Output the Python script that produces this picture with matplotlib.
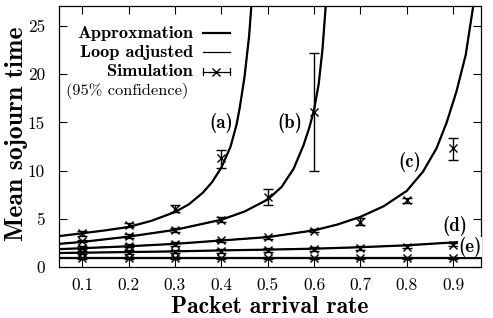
import matplotlib
matplotlib.use("Agg")
import matplotlib.pyplot as plt
import numpy as np

# ---- data ----
lam_a = [0.05, 0.1, 0.15, 0.2, 0.25, 0.3, 0.33, 0.36, 0.38, 0.4, 0.42, 0.433, 0.44, 0.45, 0.46, 0.47]
T_a = [3.2, 3.5, 3.8, 4.15, 4.8, 5.7, 6.5, 7.7, 8.8, 10.3, 12.5, 14.8, 16.6, 19.7, 24.0, 30.5]

lam_b = [0.05, 0.1, 0.2, 0.3, 0.4, 0.45, 0.5, 0.53, 0.556, 0.577, 0.59, 0.6, 0.61, 0.618, 0.625, 0.63]
T_b = [2.4, 2.6, 3.15, 3.85, 4.9, 5.75, 7.0, 8.3, 10.2, 12.6, 14.5, 16.3, 19.0, 22.5, 27.0, 30.5]

lam_c = [0.05, 0.1, 0.2, 0.3, 0.4, 0.5, 0.6, 0.65, 0.7, 0.75, 0.8, 0.835, 0.864, 0.886, 0.907, 0.927, 0.943, 0.95]
T_c = [1.85, 1.95, 2.15, 2.4, 2.75, 3.1, 3.8, 4.4, 5.2, 6.3, 7.9, 9.9, 12.3, 15.0, 18.2, 22.0, 27.0, 30.0]

lam_d = [0.05, 0.2, 0.3, 0.4, 0.5, 0.6, 0.7, 0.8, 0.9, 0.96]
T_d = [1.45, 1.55, 1.62, 1.72, 1.8, 1.9, 2.05, 2.25, 2.55, 2.8]

lam_e = [0.05, 0.5, 0.96]
T_e = [0.92, 0.92, 0.92]

sim_a_x = [0.1, 0.2, 0.3, 0.4]
sim_a_y = [3.5, 4.35, 6.05, 11.3]
sim_a_lo = [3.25, 4.1, 5.7, 10.3]
sim_a_hi = [3.75, 4.6, 6.4, 12.1]

sim_b_x = [0.1, 0.2, 0.3, 0.4, 0.5, 0.6]
sim_b_y = [2.7, 3.25, 3.8, 4.9, 7.3, 16.1]
sim_b_lo = [2.55, 3.05, 3.6, 4.65, 6.4, 10.0]
sim_b_hi = [2.85, 3.45, 4.0, 5.15, 8.05, 22.2]

sim_c_x = [0.1, 0.2, 0.3, 0.4, 0.5, 0.6, 0.7, 0.8, 0.9]
sim_c_y = [2.0, 2.2, 2.4, 2.75, 3.1, 3.75, 4.7, 6.9, 12.3]
sim_c_lo = [1.85, 2.05, 2.2, 2.6, 2.95, 3.6, 4.35, 6.6, 11.1]
sim_c_hi = [2.15, 2.35, 2.6, 2.9, 3.25, 3.9, 5.05, 7.2, 13.35]

sim_d_x = [0.1, 0.2, 0.3, 0.4, 0.5, 0.6, 0.7, 0.8, 0.9]
sim_d_y = [1.5, 1.55, 1.6, 1.7, 1.8, 1.85, 1.95, 2.1, 2.3]
sim_d_lo = [1.3, 1.35, 1.4, 1.5, 1.6, 1.65, 1.75, 1.95, 2.15]
sim_d_hi = [1.7, 1.75, 1.8, 1.9, 2.0, 2.05, 2.15, 2.25, 2.45]

sim_e_x = [0.1, 0.2, 0.3, 0.4, 0.5, 0.6, 0.7, 0.8, 0.9]
sim_e_y = [0.92, 0.92, 0.92, 0.92, 0.92, 0.92, 0.92, 0.92, 0.92]
sim_e_lo = [0.78, 0.78, 0.78, 0.78, 0.78, 0.78, 0.78, 0.78, 0.78]
sim_e_hi = [1.08, 1.08, 1.08, 1.08, 1.08, 1.08, 1.08, 1.08, 1.08]

x_ticks = [0.1, 0.2, 0.3, 0.4, 0.5, 0.6, 0.7, 0.8, 0.9]
x_ticklabels = ["0.1", "0.2", "0.3", "0.4", "0.5", "0.6", "0.7", "0.8", "0.9"]
y_ticks = [0, 5, 10, 15, 20, 25]
y_ticklabels = ["0", "5", "10", "15", "20", "25"]

curve_labels = ["(a)", "(b)", "(c)", "(d)", "(e)"]
curve_label_pos = [(0.4, 14.9), (0.547, 14.9), (0.807, 10.9), (0.904, 4.25), (0.937, 2.07)]

legend_names = ["Approxmation", "Loop adjusted", "Simulation"]
legend_note = "(95% confidence)"

# ---- plotting ----
plt.rcParams['axes.formatter.use_mathtext'] = True
ROMAN = "cmr10"
BOLD = "cmb10"

fig = plt.figure(figsize=(4.93, 3.18), dpi=100)
ax = fig.add_axes([0.1197, 0.1604, 0.9757 - 0.1197, 0.9811 - 0.1604])

curves = [(lam_a, T_a), (lam_b, T_b), (lam_c, T_c), (lam_d, T_d), (lam_e, T_e)]
for lx, ty in curves:
    ax.plot(lx, ty, color="black", lw=1.6, solid_joinstyle="round", zorder=3)
    ax.plot(lx, ty, color="black", lw=0.8, zorder=3)

sims = [(sim_a_x, sim_a_y, sim_a_lo, sim_a_hi),
        (sim_b_x, sim_b_y, sim_b_lo, sim_b_hi),
        (sim_c_x, sim_c_y, sim_c_lo, sim_c_hi),
        (sim_d_x, sim_d_y, sim_d_lo, sim_d_hi),
        (sim_e_x, sim_e_y, sim_e_lo, sim_e_hi)]
for sx, sy, lo, hi in sims:
    sy = np.array(sy)
    yerr = np.vstack([sy - np.array(lo), np.array(hi) - sy])
    ax.errorbar(sx, sy, yerr=yerr, fmt="x", color="black", ms=5.5, mew=1.0,
                elinewidth=1.0, capsize=3.5, capthick=1.2, zorder=4)

for lab, (px, py) in zip(curve_labels, curve_label_pos):
    kw = {}
    if lab == "(e)":
        kw["bbox"] = dict(facecolor="white", edgecolor="none", pad=0.3)
    ax.text(px, py, lab, family=BOLD, fontsize=13.5, ha="center", va="center", zorder=5, **kw)

ax.set_xlim(0.05, 0.96)
ax.set_ylim(0, 27.07)
ax.set_xticks(x_ticks)
ax.set_xticklabels(x_ticklabels, family=ROMAN, fontsize=12.5)
ax.set_yticks(y_ticks)
ax.set_yticklabels(y_ticklabels, family=ROMAN, fontsize=12.5)
ax.tick_params(direction="in", length=6, width=0.8, top=True, right=True)
ax.tick_params(axis="x", pad=8)
ax.tick_params(axis="y", pad=10)
ax.set_xlabel("Packet arrival rate", family=BOLD, fontsize=17)
ax.set_ylabel("Mean sojourn time", family=BOLD, fontsize=18.5)
ax.xaxis.set_label_coords(0.5, -0.152)
ax.yaxis.set_label_coords(-0.10, 0.511)
ax.xaxis.label.set_va("center")
ax.yaxis.label.set_va("center")
for s in ax.spines.values():
    s.set_linewidth(0.9)

# legend (manual, gnuplot style)
T = ax.transAxes
xr = 0.318
ys = [0.895, 0.822, 0.749]
for nm, yy in zip(legend_names, ys):
    ax.text(xr, yy, nm, transform=T, family=BOLD, fontsize=13.2, ha="right", va="center")
x0, x1 = 0.341, 0.405
ax.plot([x0, x1], [ys[0], ys[0]], transform=T, color="black", lw=1.6)
ax.plot([x0, x1], [ys[1], ys[1]], transform=T, color="black", lw=0.9)
ax.plot([x0, x1], [ys[2], ys[2]], transform=T, color="black", lw=0.9)
ax.plot([x0, x0], [ys[2] - 0.015, ys[2] + 0.015], transform=T, color="black", lw=0.9)
ax.plot([x1, x1], [ys[2] - 0.015, ys[2] + 0.015], transform=T, color="black", lw=0.9)
ax.plot([(x0 + x1) / 2], [ys[2]], transform=T, marker="x", color="black", ms=5.5, mew=1.0)
ax.text(0.017, 0.676, legend_note, transform=T, family=ROMAN, fontsize=11.8,
        ha="left", va="center")

fig.savefig("out.png", dpi=100)
